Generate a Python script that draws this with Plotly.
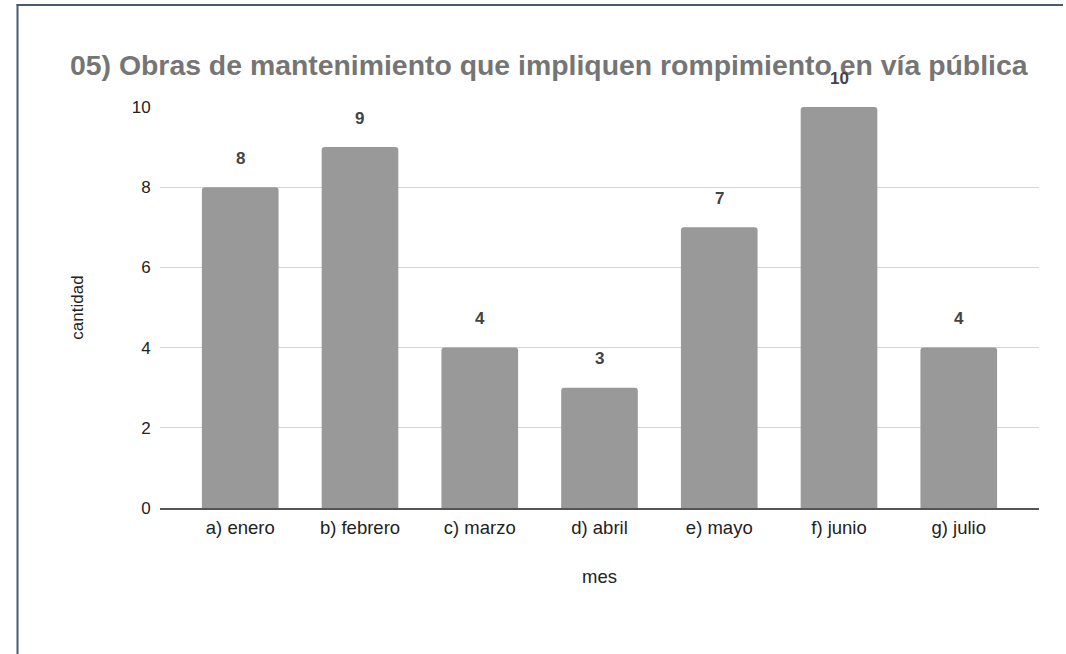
import plotly.graph_objects as go

categorias = ["a) enero", "b) febrero", "c) marzo", "d) abril", "e) mayo", "f) junio", "g) julio"]
cantidades = [8, 9, 4, 3, 7, 10, 4]
y_ticks = [0, 2, 4, 6, 8, 10]

W, H = 1066, 654
ML, MR, MT, MB = 160, 27, 107, 146
PW, PH = W - ML - MR, H - MT - MB
FONT = "Arial, Liberation Sans, sans-serif"

def px_x(p):
    return (p - ML) / PW

def px_y(p):
    return (H - MB - p) / PH

fig = go.Figure()
fig.add_trace(go.Bar(
    x=list(range(len(categorias))),
    y=cantidades,
    width=0.64,
    marker=dict(color="#999999", line=dict(width=0), cornerradius=3),
    hoverinfo="skip",
))

for i, v in enumerate(cantidades):
    fig.add_annotation(x=i, y=v, text=f"<b>{v}</b>", showarrow=False,
                       yshift=29, font=dict(size=17, color="#444444", family=FONT))

fig.update_layout(
    width=W, height=H,
    margin=dict(l=ML, r=MR, t=MT, b=MB),
    paper_bgcolor="white", plot_bgcolor="white",
    showlegend=False,
    font=dict(family=FONT, color="#222222", size=18),
    title=dict(text="<b>05) Obras de mantenimiento que impliquen rompimiento en vía pública</b>",
               x=70 / W, xanchor="left", y=1 - 65 / H, yanchor="middle",
               font=dict(size=28.4, color="#757575", family=FONT)),
    xaxis=dict(
        tickmode="array", tickvals=list(range(len(categorias))), ticktext=categorias,
        range=[-0.67, 6.67], showgrid=False, zeroline=False,
        showline=True, linecolor="#555555", linewidth=1.5,
        ticks="outside", ticklen=2, tickcolor="rgba(0,0,0,0)",
        tickfont=dict(size=18.5, color="#222222"),
        title=dict(text="mes", font=dict(size=18.5, color="#222222"), standoff=33),
    ),
    yaxis=dict(
        range=[0, 10], tickvals=y_ticks,
        showgrid=True, gridcolor="#d4d4d4", gridwidth=1,
        zeroline=False, showline=False,
        ticks="outside", ticklen=5, tickcolor="rgba(0,0,0,0)",
        tickfont=dict(size=17, color="#222222"),
        title=dict(text="cantidad", font=dict(size=17, color="#222222"), standoff=43),
    ),
)

fig.add_shape(type="line", xref="paper", yref="paper",
              x0=px_x(17.5), x1=px_x(17.5), y0=px_y(4), y1=px_y(660),
              line=dict(color="#4a5a70", width=2))
fig.add_shape(type="line", xref="paper", yref="paper",
              x0=px_x(16.5), x1=px_x(1063), y0=px_y(5), y1=px_y(5),
              line=dict(color="#4a5a70", width=2))

fig.write_html("out.html", config={"displayModeBar": False},
               post_script="document.body.style.margin='0';document.body.style.overflow='hidden';")
